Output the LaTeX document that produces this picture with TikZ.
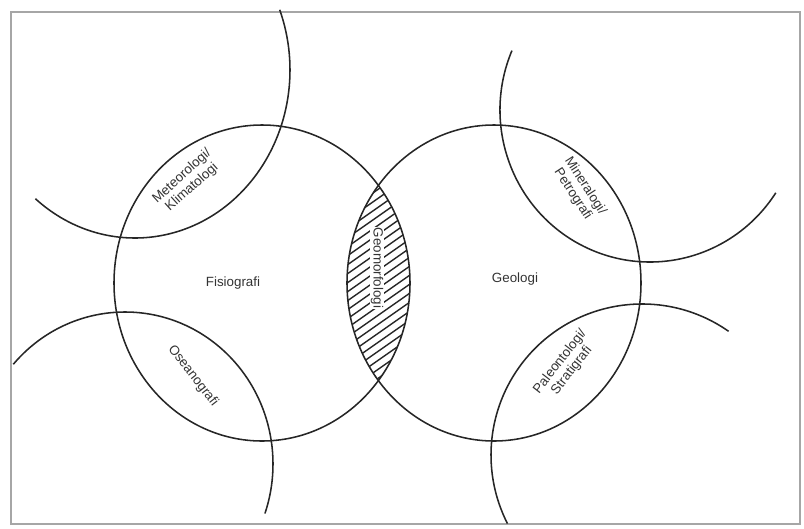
\documentclass[tikz,border=0pt]{standalone}
\usepackage{fontspec}
\setmainfont{Liberation Sans}
\usepackage{xcolor}
\usepackage{tikz}
\usetikzlibrary{positioning}

\begin{document}
\begin{tikzpicture}[x=0.025cm, y=-0.025cm,
    ring/.style={line width=1.1pt, black!85},
    hatch/.style={line width=1pt, black!85},
    lbl/.style={font=\fontsize{9.5}{10.5}\selectfont, text=black!80, align=center, inner sep=1pt}]
\useasboundingbox (0,0) rectangle (804,528);
\draw[gray!70, line width=1pt] (11,12) rectangle (800,524);

% centres of the two main fields and the four neighbours
\coordinate (cfis) at (262,283);
\coordinate (cgeo) at (494,283);
\coordinate (cmet) at (135,70);
\coordinate (cmin) at (650,110);
\coordinate (cose) at (125,464);
\coordinate (cpal) at (642,455);

% shared part (hatched)
\begin{scope}
\clip (cfis) ellipse [x radius=148, y radius=158];
\clip (cgeo) ellipse [x radius=147, y radius=158];
\foreach \k in {0,...,34}
    \draw[hatch] (330,160+\k*9) -- ++(100,-70);
\end{scope}

\draw[ring] (cfis) ellipse [x radius=148, y radius=158];
\draw[ring] (cgeo) ellipse [x radius=147, y radius=158];

\draw[ring] ([shift={(130:155 and 168)}]cmet) arc [start angle=130, end angle=-21, x radius=155, y radius=168];
\draw[ring] ([shift={(203:150 and 152)}]cmin) arc [start angle=203, end angle=33, x radius=150, y radius=152];
\draw[ring] ([shift={(-139:148 and 152)}]cose) arc [start angle=-139, end angle=19, x radius=148, y radius=152];
\draw[ring] ([shift={(-55:151 and 151)}]cpal) arc [start angle=-55, end angle=-207, x radius=151, y radius=151];

\node[lbl] (fisio) at (233,283) {Fisiografi};
\node[lbl] (geo) at (515,279) {Geologi};
\node[lbl, rotate=-90, fill=white, inner sep=0.5pt] (geomorf) at (377,268) {Geomorfologi};
\node[lbl, rotate=42] (meteo) at (187,182) {Meteorologi/\\Klimatologi};
\node[lbl, rotate=-57] (mineral) at (579,190) {Mineralogi/\\Petrografi};
\node[lbl, rotate=-52] (oseano) at (193,376) {Oseanografi};
\node[lbl, rotate=52] (paleo) at (566,366) {Paleontologi/\\Stratigrafi};
\end{tikzpicture}
\end{document}
